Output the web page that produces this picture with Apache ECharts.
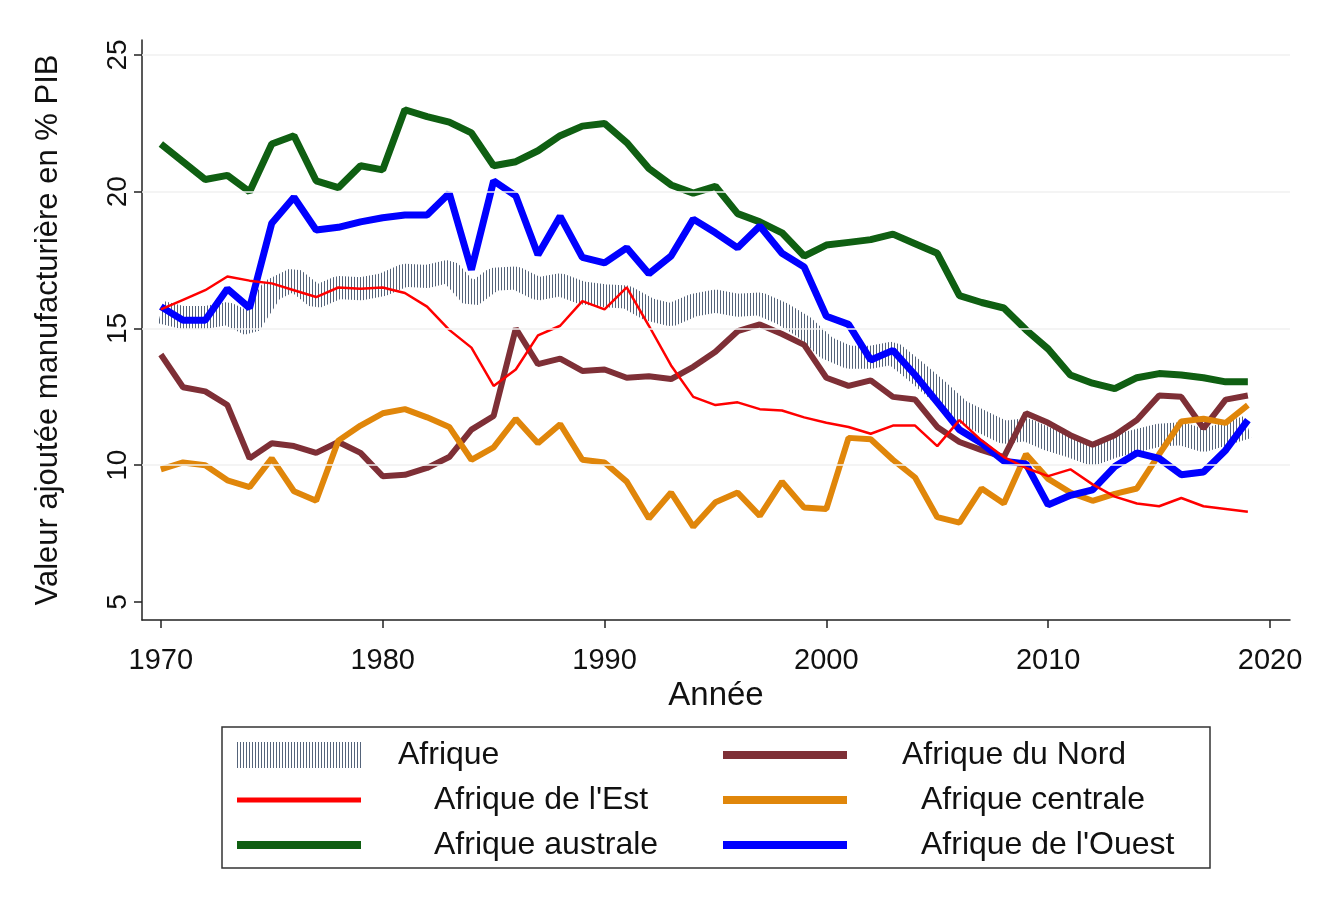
<!DOCTYPE html>
<html>
<head>
<meta charset="utf-8">
<script src="https://cdn.jsdelivr.net/npm/echarts@6/dist/echarts.min.js"></script>
<style>
html,body{margin:0;padding:0;background:#ffffff;}
#chart{width:1330px;height:906px;}
</style>
</head>
<body>
<div id="chart"></div>
<script>
const years = [];
for (let y = 1970; y <= 2019; y++) years.push(y);

const xTicks = [1970, 1980, 1990, 2000, 2010, 2020];
const yTicks = [5, 10, 15, 20, 25];
const gridValues = [10, 15, 20, 25];

const afrique = [15.6,15.4,15.4,15.55,15.15,16.4,16.8,16.15,16.5,16.45,
  16.6,16.95,16.9,17.1,16.2,16.8,16.85,16.45,16.6,16.3,
  16.2,16.15,15.7,15.5,15.85,16.0,15.85,15.9,15.55,15.05,
  14.3,13.95,13.95,14.1,13.45,12.75,12.0,11.6,11.2,11.3,
  10.95,10.7,10.4,10.7,10.9,11.1,11.15,10.9,11.15,11.4];

const nord = [14.05,12.85,12.7,12.2,10.25,10.8,10.7,10.45,10.85,10.45,
  9.6,9.65,9.9,10.3,11.3,11.8,15.0,13.7,13.9,13.45,
  13.5,13.2,13.25,13.15,13.6,14.15,14.9,15.15,14.8,14.4,
  13.2,12.9,13.1,12.5,12.4,11.4,10.85,10.55,10.3,11.9,
  11.55,11.1,10.75,11.1,11.65,12.55,12.5,11.35,12.4,12.55];

const est = [15.7,16.05,16.4,16.9,16.75,16.65,16.4,16.15,16.5,16.45,
  16.5,16.3,15.8,14.95,14.3,12.9,13.5,14.75,15.1,16.0,
  15.7,16.5,15.1,13.65,12.5,12.2,12.3,12.05,12.0,11.75,
  11.55,11.4,11.15,11.45,11.45,10.7,11.65,10.9,10.3,9.9,
  9.6,9.85,9.3,8.85,8.6,8.5,8.8,8.5,8.4,8.3];

const centrale = [9.85,10.1,10.0,9.45,9.2,10.25,9.05,8.7,10.9,11.45,
  11.9,12.05,11.75,11.4,10.2,10.65,11.7,10.8,11.5,10.2,
  10.1,9.4,8.05,9.0,7.75,8.65,9.0,8.15,9.4,8.45,
  8.4,11.0,10.95,10.2,9.55,8.1,7.9,9.15,8.6,10.4,
  9.5,9.0,8.7,8.95,9.15,10.4,11.6,11.7,11.55,12.2];

const australe = [21.75,21.1,20.45,20.6,20.0,21.75,22.05,20.4,20.15,20.95,
  20.8,23.0,22.75,22.55,22.15,20.95,21.1,21.5,22.05,22.4,
  22.5,21.8,20.85,20.25,19.95,20.2,19.2,18.9,18.5,17.65,
  18.05,18.15,18.25,18.45,18.1,17.75,16.2,15.95,15.75,14.95,
  14.25,13.3,13.0,12.8,13.2,13.35,13.3,13.2,13.05,13.05];

const ouest = [15.8,15.3,15.3,16.45,15.75,18.85,19.8,18.6,18.7,18.9,
  19.05,19.15,19.15,19.95,17.15,20.4,19.85,17.7,19.1,17.6,
  17.4,17.95,17.0,17.65,19.0,18.5,17.95,18.75,17.75,17.25,
  15.45,15.15,13.85,14.2,13.3,12.3,11.3,10.8,10.15,10.05,
  8.55,8.9,9.1,9.95,10.45,10.25,9.65,9.75,10.55,11.65];

const names = ['Afrique', 'Afrique du Nord', "Afrique de l'Est", 'Afrique centrale', 'Afrique australe', "Afrique de l'Ouest"];

function pairs(arr) { return years.map((y, i) => [y, arr[i]]); }

// hatch pattern
const hatch = document.createElement('canvas');
hatch.width = 3; hatch.height = 4;
const hctx = hatch.getContext('2d');
hctx.fillStyle = '#55647a';
hctx.fillRect(0, 0, 1, 4);
const hatchPattern = { image: hatch, repeat: 'repeat' };

const cGreen = '#0f5f12';
const cBlue = '#0000ff';
const cRed = '#ff0000';
const cBrown = '#7e2f36';
const cOrange = '#e0860a';

const chart = echarts.init(document.getElementById('chart'), null, { renderer: 'canvas' });

const font = 'Liberation Sans, Arial, sans-serif';

function lineSeries(name, arr, color, width, z) {
  return {
    name: name, type: 'line', data: pairs(arr), showSymbol: false, symbol: 'none',
    lineStyle: { color: color, width: width }, itemStyle: { color: color }, z: z,
    animation: false, silent: true
  };
}

const legendFont = 32;

function legendOne(name, left, rowCenter, iconColor, iconH, pad) {
  return {
    data: [{ name: name, icon: 'rect', itemStyle: { color: iconColor, borderWidth: 0 } }],
    left: left, top: rowCenter - legendFont / 2, orient: 'horizontal', itemWidth: 124, itemHeight: iconH,
    padding: 0, selectedMode: false,
    textStyle: { fontFamily: font, fontSize: legendFont, color: '#111', padding: [0, 0, 0, pad] }
  };
}

const rowY = [755, 800, 845];

const option = {
  backgroundColor: '#ffffff',
  animation: false,
  grid: { left: 142, right: 40, top: 40, bottom: 286, containLabel: false },
  xAxis: {
    type: 'value', min: 1969.15, max: 2020.9,
    name: 'Année', nameLocation: 'middle', nameGap: 54,
    nameTextStyle: { fontFamily: font, fontSize: 33, color: '#111' },
    axisLine: { show: true, lineStyle: { color: '#222', width: 1.5 } },
    axisTick: { show: true, length: 8, lineStyle: { color: '#222', width: 1.5 }, customValues: xTicks },
    axisLabel: { fontFamily: font, fontSize: 29, color: '#111', margin: 26, customValues: xTicks, formatter: v => String(v) },
    splitLine: { show: false }
  },
  yAxis: {
    type: 'value', min: 4.34, max: 25.55,
    name: 'Valeur ajoutée manufacturière en % PIB', nameLocation: 'middle', nameGap: 78, nameRotate: 90,
    nameTextStyle: { fontFamily: font, fontSize: 31, color: '#111' },
    axisLine: { show: true, lineStyle: { color: '#222', width: 1.5 } },
    axisTick: { show: true, length: 8, lineStyle: { color: '#222', width: 1.5 }, customValues: yTicks },
    axisLabel: { fontFamily: font, fontSize: 28, color: '#111', rotate: 90, margin: 10, customValues: yTicks, formatter: v => String(v) },
    splitLine: { show: false }
  },
  legend: [
    legendOne(names[0], 237, rowY[0], hatchPattern, 26, 32),
    legendOne(names[1], 723, rowY[0], cBrown, 8, 50),
    legendOne(names[2], 237, rowY[1], cRed, 5, 68),
    legendOne(names[3], 723, rowY[1], cOrange, 8, 69),
    legendOne(names[4], 237, rowY[2], cGreen, 8, 68),
    legendOne(names[5], 723, rowY[2], cBlue, 8, 69)
  ],
  graphic: [{
    type: 'rect', shape: { x: 222, y: 727, width: 988, height: 141 },
    style: { fill: 'none', stroke: '#333', lineWidth: 1.5 }, silent: true
  }],
  series: [
    Object.assign(lineSeries(names[0], afrique, hatchPattern, 23, 1), {
      markLine: {
        silent: true, symbol: 'none', label: { show: false },
        lineStyle: { color: '#f0f0f0', width: 1.5, type: 'solid' },
        data: gridValues.map(v => ({ yAxis: v }))
      }
    }),
    lineSeries(names[1], nord, cBrown, 6, 3),
    lineSeries(names[2], est, cRed, 2.5, 4),
    lineSeries(names[3], centrale, cOrange, 6, 3),
    lineSeries(names[4], australe, cGreen, 7, 3),
    lineSeries(names[5], ouest, cBlue, 7, 3)
  ]
};

chart.setOption(option);
</script>
</body>
</html>
